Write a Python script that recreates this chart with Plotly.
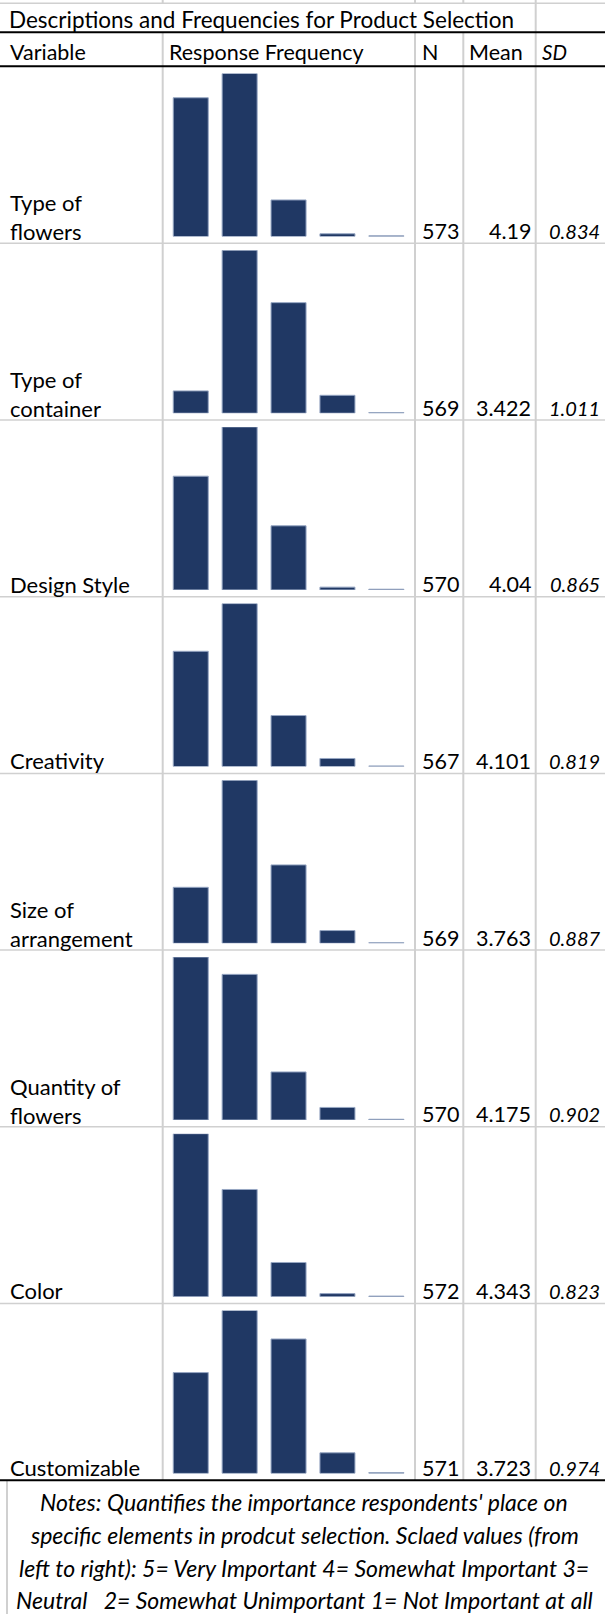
import plotly.graph_objects as go

# ---- data -------------------------------------------------------------
variables = [
    "Type of<br>flowers",
    "Type of<br>container",
    "Design Style",
    "Creativity",
    "Size of<br>arrangement",
    "Quantity of<br>flowers",
    "Color",
    "Customizable",
]
scale_points = ["5", "4", "3", "2", "1"]

# share of respondents (%) choosing each scale point, 5 -> 1
pct_type_of_flowers = [40.6, 47.7, 10.7, 0.8, 0.2]
pct_type_of_container = [7.1, 51.9, 35.2, 5.7, 0.2]
pct_design_style = [33.0, 47.3, 18.6, 0.8, 0.2]
pct_creativity = [34.1, 48.2, 15.1, 2.4, 0.2]
pct_size_of_arrangement = [18.0, 52.4, 25.2, 4.1, 0.2]
pct_quantity_of_flowers = [44.1, 39.4, 13.0, 3.4, 0.2]
pct_color = [52.9, 34.8, 11.1, 1.0, 0.2]
pct_customizable = [24.0, 38.8, 32.0, 4.9, 0.2]

n_values = [573, 569, 570, 567, 569, 570, 572, 571]
mean_values = [4.19, 3.422, 4.04, 4.101, 3.763, 4.175, 4.343, 3.723]
sd_values = [0.834, 1.011, 0.865, 0.819, 0.887, 0.902, 0.823, 0.974]

title_text = "Descriptions and Frequencies for Product Selection"
headers = ["Variable", "Response Frequency", "N", "Mean", "<i>SD</i>"]
note_lines = [
    "Notes: Quantifies the importance respondents' place on",
    "specific elements in prodcut selection. Sclaed values (from",
    "left to right): 5= Very Important 4= Somewhat Important 3=",
    "Neutral   2= Somewhat Unimportant 1= Not Important at all",
]

frequencies = [
    pct_type_of_flowers,
    pct_type_of_container,
    pct_design_style,
    pct_creativity,
    pct_size_of_arrangement,
    pct_quantity_of_flowers,
    pct_color,
    pct_customizable,
]

# ---- page geometry (pixels) ----------------------------------------------
W, H = 605, 1614
FONT = "Lato, Carlito, Calibri, sans-serif"
FS = 21.5          # numbers and headers
FS_LABEL = 22      # variable names
FS_TITLE = 22.5
FS_SD = 20
FS_NOTE = 23
BAR_COLOR = "#203864"
BAR_EDGE = "#97A7C3"
GRID = "#D0D0D0"

ROW_TOP0 = 66.6
ROW_H = 176.7
COL_X = [162.7, 415.0, 463.3, 535.7]
BAR_X0, BAR_X1 = 166.3, 410.8
BAR_AREA_H = 163.0
BAR_BOTTOM_GAP = 6.8
TABLE_BOTTOM = ROW_TOP0 + 8 * ROW_H


def px(x):
    return x / W


def py(y):
    return 1 - y / H


def text_at(text, x, y, xanchor="left", size=FS, align="left"):
    return dict(
        text=text, x=px(x), y=py(y), xref="paper", yref="paper",
        xanchor=xanchor, yanchor="middle", showarrow=False, align=align,
        font=dict(size=size),
    )


fig = go.Figure()
layout = dict(
    width=W,
    height=H,
    margin=dict(l=0, r=0, t=0, b=0),
    paper_bgcolor="white",
    plot_bgcolor="rgba(0,0,0,0)",
    showlegend=False,
    bargap=0.284,
    font=dict(family=FONT, size=FS, color="black"),
)

annotations = []
shapes = []

for i, vals in enumerate(frequencies):
    row_top = ROW_TOP0 + i * ROW_H
    row_bottom = row_top + ROW_H
    bar_bottom = row_bottom - BAR_BOTTOM_GAP
    bar_top = bar_bottom - BAR_AREA_H
    k = "" if i == 0 else str(i + 1)

    fig.add_trace(go.Bar(
        x=scale_points,
        y=vals,
        xaxis="x" + k,
        yaxis="y" + k,
        marker=dict(color=BAR_COLOR, line=dict(color=BAR_EDGE, width=1)),
        hoverinfo="skip",
    ))
    layout["xaxis" + k] = dict(
        domain=[px(BAR_X0), px(BAR_X1)], anchor="y" + k,
        visible=False, fixedrange=True, type="category",
    )
    layout["yaxis" + k] = dict(
        domain=[py(bar_bottom), py(bar_top)], anchor="x" + k,
        range=[0, max(vals)], visible=False, fixedrange=True,
    )

    # variable name, bottom-aligned in its cell
    line_y = row_bottom - 12.5
    n_lines = variables[i].count("<br>") + 1
    label_center = line_y - (n_lines - 1) * 0.62 * FS_LABEL
    annotations.append(text_at(variables[i], 8, label_center, size=FS_LABEL))
    annotations.append(text_at(str(n_values[i]), COL_X[2] - 2, line_y, "right"))
    annotations.append(text_at(str(mean_values[i]), COL_X[3] - 3, line_y, "right"))
    annotations.append(text_at("<i>%s</i>" % sd_values[i], W - 3, line_y, "right",
                               size=FS_SD))

# title and column headers
annotations.append(text_at(title_text, 7, 19.5, size=FS_TITLE))
header_x = [8, COL_X[0] + 4, COL_X[1] + 5, COL_X[2] + 4, COL_X[3] + 4]
header_size = [FS, FS, FS, FS, FS_SD + 0.5]
for hx, htxt, hs in zip(header_x, headers, header_size):
    annotations.append(text_at(htxt, hx, 51.5, size=hs))

# notes below the table
note_centers = [1502, 1535, 1568, 1600]
for yc, line in zip(note_centers, note_lines):
    annotations.append(text_at("<i>%s</i>" % line, 304, yc, "center",
                               size=FS_NOTE, align="center"))


def hline(y, color, width, x0=0, x1=W):
    shapes.append(dict(type="line", xref="paper", yref="paper",
                       x0=px(x0), x1=px(x1), y0=py(y), y1=py(y),
                       line=dict(color=color, width=width)))


def vline(x, y0, y1, color=GRID, width=2):
    shapes.append(dict(type="line", xref="paper", yref="paper",
                       x0=px(x), x1=px(x), y0=py(y0), y1=py(y1),
                       line=dict(color=color, width=width)))


# cell borders
for cx in COL_X[:3]:
    vline(cx, 0, 3.3)
    vline(cx, 32.3, TABLE_BOTTOM)
vline(COL_X[3], 0, TABLE_BOTTOM)
vline(7, TABLE_BOTTOM, H)

hline(3.3, GRID, 1.5)
for r in range(1, 8):
    hline(ROW_TOP0 + r * ROW_H, GRID, 1.5)
hline(32.3, "black", 2)
hline(66.3, "black", 2)
hline(TABLE_BOTTOM, "black", 2)

layout["annotations"] = annotations
layout["shapes"] = shapes
fig.update_layout(**layout)

fig.write_html("out.html")
